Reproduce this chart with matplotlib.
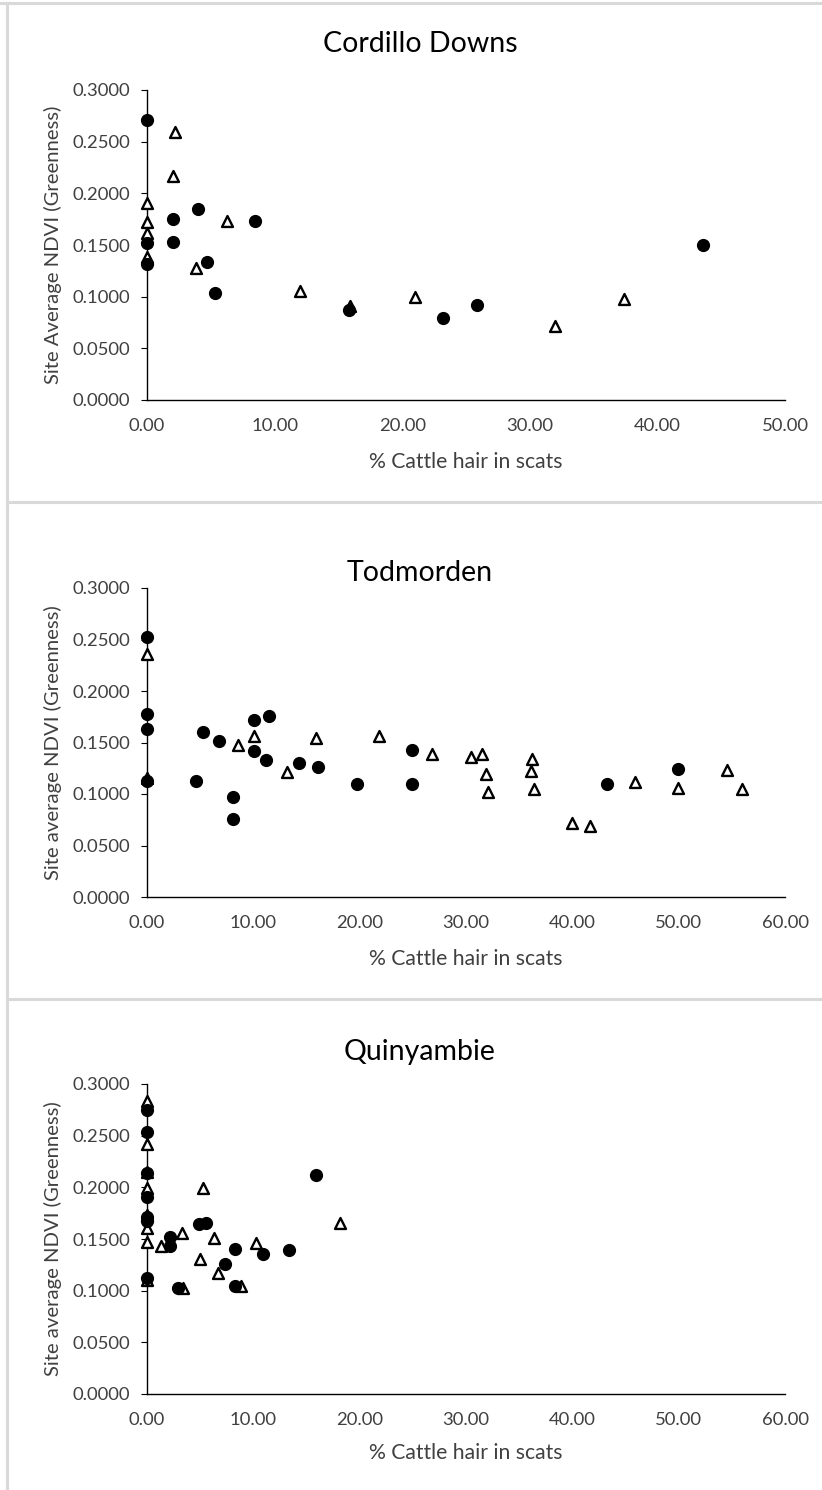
import matplotlib
matplotlib.use("Agg")
import matplotlib.pyplot as plt
from matplotlib.lines import Line2D
from matplotlib.ticker import FixedLocator, FormatStrFormatter

plt.rcParams['font.family'] = ['Lato', 'DejaVu Sans']

# Cordillo Downs
cd_circle_x = [0.0, 0.0, 0.0, 2.0, 2.0, 3.97, 4.73, 5.3, 8.46, 15.8, 23.2, 25.9, 43.6]
cd_circle_y = [0.2708, 0.1515, 0.1315, 0.1747, 0.1530, 0.1844, 0.1338, 0.1038, 0.1734, 0.0870, 0.0790, 0.0919, 0.1500]
cd_tri_x = [2.16, 2.04, 0.0, 0.0, 0.0, 0.0, 3.81, 6.24, 12.0, 15.9, 21.0, 31.97, 37.4]
cd_tri_y = [0.2595, 0.2166, 0.1910, 0.1725, 0.1618, 0.1386, 0.1273, 0.1734, 0.1057, 0.0909, 0.0999, 0.0716, 0.0974]

# Todmorden
td_circle_x = [0.0, 0.0, 0.0, 0.0, 4.58, 5.3, 6.74, 8.12, 8.12, 10.07, 10.07, 11.46, 11.18,
               14.33, 16.12, 19.73, 24.96, 24.96, 43.25, 49.98]
td_circle_y = [0.2522, 0.1780, 0.1628, 0.1129, 0.1129, 0.1599, 0.1511, 0.0967, 0.0757, 0.1715,
               0.1414, 0.1754, 0.1330, 0.1301, 0.1259, 0.1100, 0.1430, 0.1100, 0.1100, 0.1243]
td_tri_x = [0.0, 0.0, 8.59, 10.07, 13.2, 15.9, 21.8, 26.84, 30.45, 31.48, 31.86, 32.1, 36.19,
            36.1, 36.4, 40.0, 41.66, 45.85, 49.97, 54.53, 56.0]
td_tri_y = [0.2363, 0.1160, 0.1479, 0.1567, 0.1210, 0.1544, 0.1567, 0.1392, 0.1360, 0.1392,
            0.1197, 0.1016, 0.1340, 0.1220, 0.1048, 0.0718, 0.0685, 0.1113, 0.1058, 0.1236, 0.1048]

# Quinyambie
qy_circle_x = [0.0, 0.0, 0.0, 0.0, 0.0, 0.0, 0.0, 2.16, 2.16, 2.95, 4.92, 5.55, 7.34, 8.28,
               8.28, 10.94, 13.39, 15.9]
qy_circle_y = [0.2751, 0.2531, 0.2137, 0.1911, 0.1717, 0.1675, 0.1120, 0.1523, 0.1436, 0.1029,
               0.1646, 0.1659, 0.1259, 0.1401, 0.1046, 0.1353, 0.1394, 0.2121]
qy_tri_x = [0.0, 0.0, 0.0, 0.0, 0.0, 0.0, 0.0, 0.0, 1.29, 3.26, 3.36, 5.24, 4.99, 6.3, 6.71,
            8.81, 10.22, 18.16]
qy_tri_y = [0.2832, 0.2419, 0.2150, 0.1998, 0.1735, 0.1605, 0.1475, 0.1104, 0.1436, 0.1562,
            0.1029, 0.1998, 0.1304, 0.1508, 0.1169, 0.1046, 0.1465, 0.1653]

yticks = [0.0, 0.05, 0.10, 0.15, 0.20, 0.25, 0.30]

panels = [
    # title, ylabel, xmax, circles, triangles, axes top/bottom (px), title y, xlabel offset
    ("Cordillo Downs", "Site Average NDVI (Greenness)", 50,
     (cd_circle_x, cd_circle_y), (cd_tri_x, cd_tri_y), 90, 400, 44, 52),
    ("Todmorden", "Site average NDVI (Greenness)", 60,
     (td_circle_x, td_circle_y), (td_tri_x, td_tri_y), 588, 897, 573, 52),
    ("Quinyambie", "Site average NDVI (Greenness)", 60,
     (qy_circle_x, qy_circle_y), (qy_tri_x, qy_tri_y), 1084, 1394, 1052, 49),
]

W, H = 822, 1490
fig = plt.figure(figsize=(W / 100, H / 100), dpi=100)

ax_left, ax_right = 147, 785
txt = '#404040'
for title, ylab, xmax, circ, tri, top, bottom, ty, xl_off in panels:
    ax = fig.add_axes([ax_left / W, 1 - bottom / H, (ax_right - ax_left) / W, (bottom - top) / H])
    ax.scatter(tri[0], tri[1], marker='^', s=62, facecolor='white', edgecolor='black',
               linewidth=1.7, zorder=3, clip_on=False)
    ax.scatter(circ[0], circ[1], marker='o', s=72, color='black', zorder=4, clip_on=False)
    ax.set_xlim(0, xmax)
    ax.set_ylim(0, 0.3)
    ax.xaxis.set_major_locator(FixedLocator(list(range(0, xmax + 1, 10))))
    ax.xaxis.set_major_formatter(FormatStrFormatter('%.2f'))
    ax.yaxis.set_major_locator(FixedLocator(yticks))
    ax.yaxis.set_major_formatter(FormatStrFormatter('%.4f'))
    for s in ['top', 'right']:
        ax.spines[s].set_visible(False)
    for s in ['left', 'bottom']:
        ax.spines[s].set_color('black')
        ax.spines[s].set_linewidth(1.0)
    ax.tick_params(axis='x', length=0, pad=13, labelsize=13.3, labelcolor=txt)
    ax.tick_params(axis='y', length=4, width=0.8, direction='out', pad=8, labelsize=13.3,
                   labelcolor=txt)
    ax.set_xlabel("% Cattle hair in scats", fontsize=15.2, color=txt)
    ax.xaxis.set_label_coords(0.5, -xl_off / (bottom - top))
    ax.set_ylabel(ylab, fontsize=14.6, color=txt)
    ax.yaxis.set_label_coords(-(147 - 62) / (ax_right - ax_left), 0.5)
    fig.text(420 / W, 1 - ty / H, title, fontsize=20.5, color='black', ha='center', va='center')

# light grey chart borders
grey = '#d9d9d9'
fig.add_artist(Line2D([0, 1], [1 - 3 / H, 1 - 3 / H], color=grey, lw=2.2))
fig.add_artist(Line2D([7 / W, 7 / W], [0, 1 - 3 / H], color=grey, lw=2.2))
fig.add_artist(Line2D([7 / W, 1], [1 - 502 / H, 1 - 502 / H], color=grey, lw=2.2))
fig.add_artist(Line2D([7 / W, 1], [1 - 999 / H, 1 - 999 / H], color=grey, lw=2.2))

fig.savefig("out.png", dpi=100, facecolor='white')
